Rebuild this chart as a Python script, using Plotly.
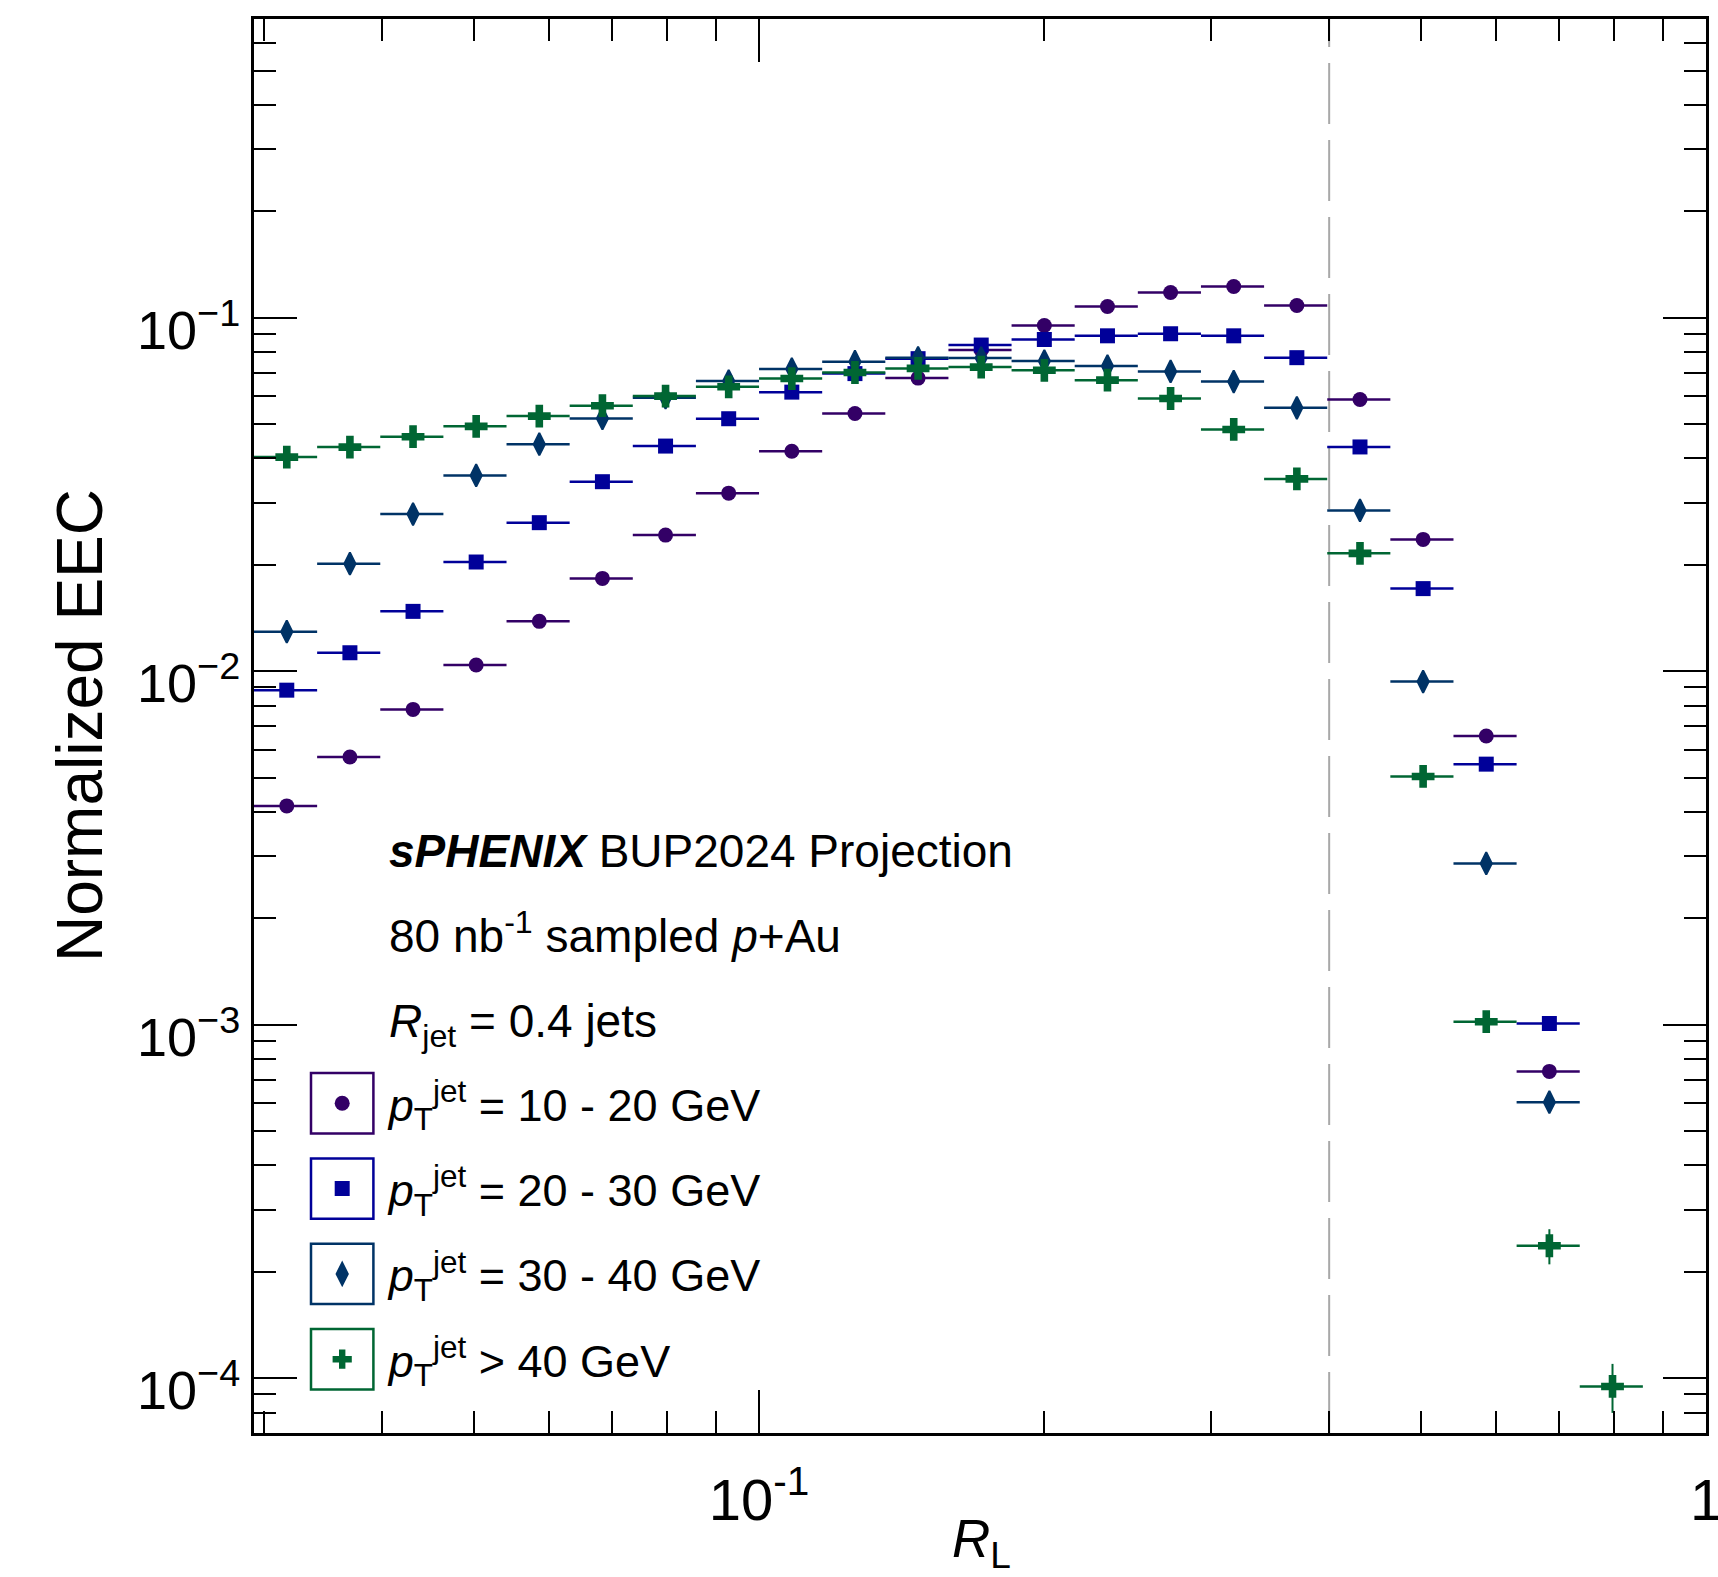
import math
import plotly.graph_objects as go

# ------------------------------------------------------------------ data
# R_L bin edges (log-spaced histogram binning)
rl_bin_edges = [0.029286, 0.034145, 0.039811, 0.046416, 0.054117, 0.063096, 0.073564, 0.085770,
                0.100000, 0.116591, 0.135936, 0.158489, 0.184785, 0.215443, 0.251189, 0.292864,
                0.341455, 0.398107, 0.464159, 0.541170, 0.630957, 0.735642, 0.857696, 1.000000]

eec_pt_10_20 = [0.00416, 0.00572, 0.00780, 0.01041, 0.01384, 0.01831, 0.02427, 0.03190, 0.04190,
                0.05360, 0.06750, 0.08100, 0.09510, 0.10760, 0.11790, 0.12260, 0.10830, 0.05870,
                0.02360, 0.00656, 0.000738]
eec_pt_20_30 = [0.00884, 0.01128, 0.01477, 0.02037, 0.02632, 0.03437, 0.04335, 0.05180, 0.06160,
                0.06950, 0.07660, 0.08370, 0.08680, 0.08890, 0.09010, 0.08890, 0.07710, 0.04310,
                0.01713, 0.00546, 0.001008]
eec_pt_30_40 = [0.01294, 0.02015, 0.02783, 0.03581, 0.04389, 0.05191, 0.05940, 0.06620, 0.07160,
                0.07510, 0.07700, 0.07690, 0.07540, 0.07300, 0.07050, 0.06600, 0.05560, 0.02850,
                0.00935, 0.00286, 0.000604]
eec_pt_40 = [0.04034, 0.04306, 0.04607, 0.04929, 0.05269, 0.05638, 0.06003, 0.06378, 0.06730,
             0.07000, 0.07190, 0.07250, 0.07100, 0.06660, 0.05910, 0.04830, 0.03500, 0.02155,
             0.00504, 0.00102, 0.000237, 0.0000948]

err_pt_10_20 = [0.0] * len(eec_pt_10_20)
err_pt_20_30 = [0.0] * len(eec_pt_20_30)
err_pt_30_40 = [0.0] * len(eec_pt_30_40)
err_pt_40 = [0.0, 0.0, 0.0, 0.0, 0.0, 0.0, 0.0, 0.0, 0.0, 0.0, 0.0,
             0.0, 0.0, 0.0, 0.0, 0.0, 0.0, 0.0, 0.0, 0.0, 0.000027, 0.000015]

series_labels = [
    "<i>p</i><sub>T</sub><sup>jet</sup> = 10 - 20 GeV",
    "<i>p</i><sub>T</sub><sup>jet</sup> = 20 - 30 GeV",
    "<i>p</i><sub>T</sub><sup>jet</sup> = 30 - 40 GeV",
    "<i>p</i><sub>T</sub><sup>jet</sup> > 40 GeV",
]
series_values = [eec_pt_10_20, eec_pt_20_30, eec_pt_30_40, eec_pt_40]
series_errors = [err_pt_10_20, err_pt_20_30, err_pt_30_40, err_pt_40]

x_tick_vals = [0.1, 1.0]
x_tick_text = ["10<sup>-1</sup>", "1"]
y_tick_vals = [1e-4, 1e-3, 1e-2, 1e-1]
y_tick_text = ["10<sup>\u22124</sup>", "10<sup>\u22123</sup>", "10<sup>\u22122</sup>", "10<sup>\u22121</sup>"]
x_range = [0.029286, 1.0]
y_range = [7e-5, 0.7]
r_jet_line = 0.4

header_lines = [
    "<b><i>sPHENIX</i></b> BUP2024 Projection",
    "80 nb<sup>-1</sup> sampled <i>p</i>+Au",
    "<i>R</i><sub>jet</sub> = 0.4 jets",
]
x_title = "<i>R</i><sub>L</sub>"
y_title = "Normalized EEC"

# ------------------------------------------------------------------ style
styles = [
    dict(color="#330066", symbol="circle", size=15, lw=0),
    dict(color="#000099", symbol="square", size=15, lw=0),
    dict(color="#003366", symbol="diamond-tall", size=16, lw=2),
    dict(color="#006633", symbol="cross", size=19, lw=0),
]
FONT = "Liberation Sans, Arial, Helvetica, sans-serif"
W, H = 1718, 1577
ML, MR, MT, MB = 254, 12, 19, 144
PW, PH = W - ML - MR, H - MT - MB


def px_x(x):
    return (x - ML) / PW


def px_y(y):
    return (H - MB - y) / PH


centers = [(rl_bin_edges[i] + rl_bin_edges[i + 1]) / 2 for i in range(len(rl_bin_edges) - 1)]

fig = go.Figure()
for label, vals, errs, st in zip(series_labels, series_values, series_errors, styles):
    n = len(vals)
    xc = centers[:n]
    ex_p = [rl_bin_edges[i + 1] - xc[i] for i in range(n)]
    ex_m = [xc[i] - rl_bin_edges[i] for i in range(n)]
    fig.add_trace(go.Scatter(
        x=xc, y=vals, mode="markers", name=label, legendgroup=label,
        marker=dict(color=st["color"], symbol=st["symbol"], size=st["size"],
                    line=dict(color=st["color"], width=st["lw"])),
        error_x=dict(type="data", symmetric=False, array=ex_p, arrayminus=ex_m,
                     width=0, thickness=2.5, color=st["color"]),
        error_y=dict(type="data", array=errs, width=0, thickness=2, color=st["color"]),
    ))

x_minor = [m * 10.0 ** e for e in (-2, -1) for m in range(2, 10)]
x_minor = [v for v in x_minor if x_range[0] < v < x_range[1]]
y_minor = [m * 10.0 ** e for e in (-5, -4, -3, -2, -1) for m in range(2, 10)]
y_minor = [v for v in y_minor if y_range[0] < v < y_range[1]]

axis_common = dict(
    type="log", showgrid=False, zeroline=False, showline=True, linecolor="black",
    linewidth=3, mirror="ticks", ticks="inside", ticklen=43, tickwidth=2, tickcolor="black",
    tickmode="array", ticklabeloverflow="allow",
)

fig.update_layout(
    width=W, height=H, margin=dict(l=ML, r=MR, t=MT, b=MB, autoexpand=False),
    paper_bgcolor="white", plot_bgcolor="white",
    font=dict(family=FONT, color="black"),
    xaxis=dict(
        **axis_common,
        range=[math.log10(x_range[0]), math.log10(x_range[1])],
        tickvals=x_tick_vals, ticktext=x_tick_text,
        tickfont=dict(family=FONT, size=58, color="black"),
        ticklabelstandoff=14,
        minor=dict(tickmode="array", tickvals=x_minor, ticks="inside", ticklen=22,
                   tickwidth=2, tickcolor="black", showgrid=False),
    ),
    yaxis=dict(
        **axis_common,
        range=[math.log10(y_range[0]), math.log10(y_range[1])],
        tickvals=y_tick_vals, ticktext=y_tick_text,
        tickfont=dict(family=FONT, size=54, color="black"),
        ticklabelstandoff=0, ticklabelshift=12,
        minor=dict(tickmode="array", tickvals=y_minor, ticks="inside", ticklen=22,
                   tickwidth=2, tickcolor="black", showgrid=False),
    ),
    showlegend=True,
)

# legend geometry (pixel positions of the key boxes)
LEG_FONT = 45
ITEMW = 83
sym_cx, sym_cy0, sym_dy = 342.2, 1103.3, 85.3
item_h = 1.3 * LEG_FONT + 3
leg_left = sym_cx - (ITEMW + 10) / 2
leg_top = sym_cy0 - (5 + item_h / 2)
fig.update_layout(legend=dict(
    x=px_x(leg_left), y=px_y(leg_top), xanchor="left", yanchor="top",
    bgcolor="rgba(0,0,0,0)", borderwidth=0, itemwidth=ITEMW,
    tracegroupgap=sym_dy - item_h, traceorder="grouped",
    font=dict(family=FONT, size=LEG_FONT, color="black"),
    itemclick=False, itemdoubleclick=False,
))

shapes = []
for i, st in enumerate(styles):
    cy = sym_cy0 + i * sym_dy
    shapes.append(dict(type="rect", xref="paper", yref="paper",
                       x0=px_x(sym_cx - 31.2), x1=px_x(sym_cx + 31.2),
                       y0=px_y(cy + 30.2), y1=px_y(cy - 30.2),
                       line=dict(color=st["color"], width=2.5), fillcolor="rgba(0,0,0,0)"))
# R_L = R_jet dashed line
shapes.append(dict(type="line", xref="x", yref="paper", x0=r_jet_line, x1=r_jet_line, y0=0, y1=1,
                   line=dict(color="#a8a8a8", width=2, dash="61px,16px"), layer="below"))
fig.update_layout(shapes=shapes)

# header text lines
TXT = 46
baselines = [867, 952, 1037]
center_off = [0.3465, 0.4208, 0.273]
anns = []
for txt, b, c in zip(header_lines, baselines, center_off):
    anns.append(dict(text=txt, xref="paper", yref="paper", x=px_x(387), y=px_y(b - c * TXT),
                     xanchor="left", yanchor="middle", showarrow=False,
                     font=dict(family=FONT, size=TXT, color="black")))
anns.append(dict(text=x_title, xref="paper", yref="paper", x=px_x(982), y=px_y(1557 - 0.273 * 53),
                 xanchor="center", yanchor="middle", showarrow=False,
                 font=dict(family=FONT, size=53, color="black")))
anns.append(dict(text=y_title, xref="paper", yref="paper", x=px_x(80), y=px_y(726),
                 xanchor="center", yanchor="middle", textangle=-90, showarrow=False,
                 font=dict(family=FONT, size=64, color="black")))
fig.update_layout(annotations=anns)

fig.write_html("out.html")
